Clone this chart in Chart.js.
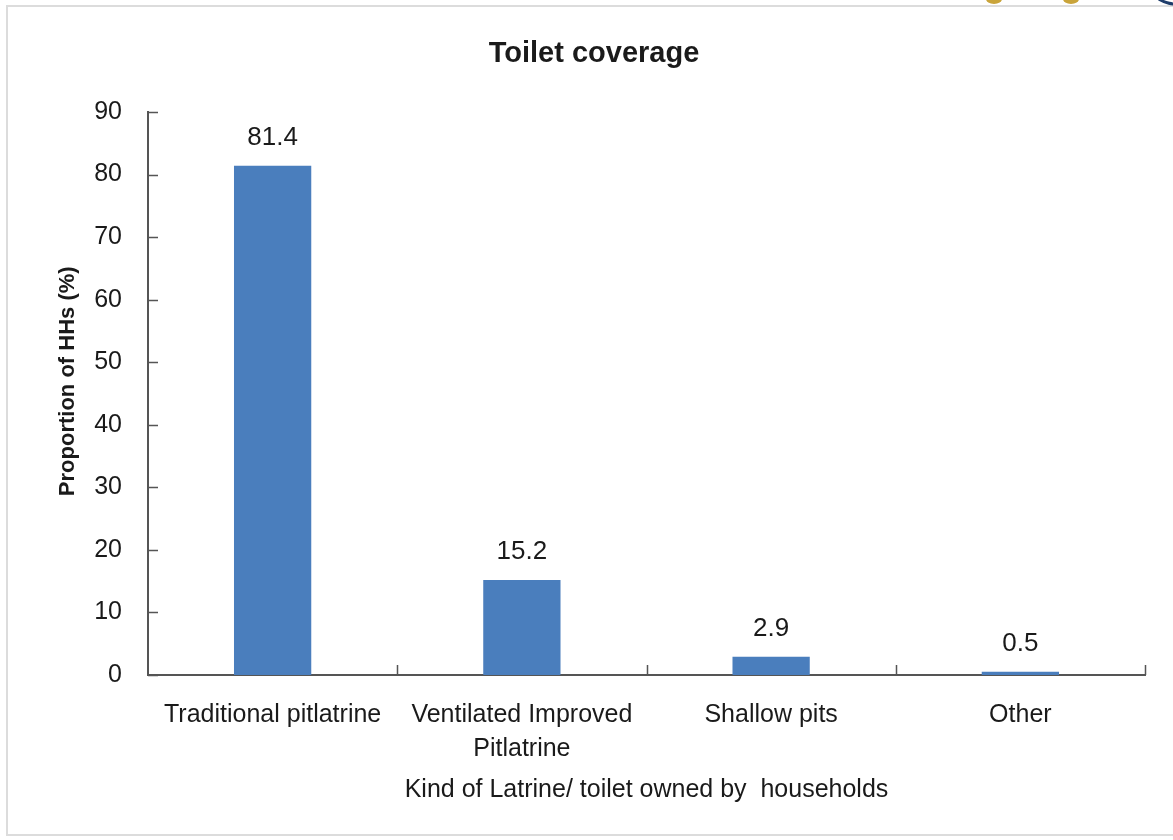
<!DOCTYPE html>
<html>
<head>
<meta charset="utf-8">
<script src="https://cdn.jsdelivr.net/npm/chart.js@4"></script>
<style>
    html, body { margin: 0; padding: 0; background: #fff; }
    body { width: 1173px; height: 840px; position: relative; overflow: hidden; }
    .frame {
        position: absolute; left: 6px; top: 5px; width: 1180px; height: 831px;
        border: 2px solid #dcdcdc; box-sizing: border-box;
    }
    .wrap { position: absolute; left: 0; top: 0; width: 1173px; height: 840px; }
    .logo1, .logo2 { position: absolute; top: -6px; width: 16px; height: 10px; border-radius: 50%; background: #c9a43a; }
    .logo1 { left: 986px; }
    .logo2 { left: 1063px; }
    .logo3 { position: absolute; top: -30px; left: 1150px; width: 60px; height: 36px; border-radius: 50%; border: 3px solid #1f3d6b; box-sizing: border-box; }
</style>
</head>
<body>
<div class="frame"></div>
<div class="logo1"></div><div class="logo2"></div><div class="logo3"></div>
<div class="wrap"><canvas id="toiletChart" width="1173" height="840"></canvas></div>
<script>
// Donnees
const categories = ['Traditional pitlatrine', ['Ventilated Improved', 'Pitlatrine'], 'Shallow pits', 'Other'];
const proportions = [81.4, 15.2, 2.9, 0.5];
const yTicks = [0, 10, 20, 30, 40, 50, 60, 70, 80, 90];

const family = "'Liberation Sans', Arial, sans-serif";
const textColor = '#1a1a1a';
const axisColor = '#555555';

// Etiquettes de valeur au-dessus des barres
const valueLabels = {
    id: 'valueLabels',
    afterDatasetsDraw(chart) {
        const ctx = chart.ctx;
        const meta = chart.getDatasetMeta(0);
        ctx.save();
        ctx.font = "26px " + family;
        ctx.fillStyle = textColor;
        ctx.textAlign = 'center';
        ctx.textBaseline = 'alphabetic';
        meta.data.forEach((bar, i) => {
            ctx.fillText(proportions[i].toFixed(1), bar.x, bar.y - 21);
        });
        ctx.restore();
    }
};

// Petits traits de graduation tournes vers l'interieur
const innerTicks = {
    id: 'innerTicks',
    afterDraw(chart) {
        const ctx = chart.ctx;
        const x = chart.scales.x;
        const y = chart.scales.y;
        ctx.save();
        ctx.strokeStyle = axisColor;
        ctx.lineWidth = 1.5;
        ctx.beginPath();
        yTicks.forEach(v => {
            const py = Math.round(y.getPixelForValue(v)) + 0.5;
            ctx.moveTo(x.left, py);
            ctx.lineTo(x.left + 10, py);
        });
        for (let i = 0; i < categories.length; i++) {
            const px = i < categories.length - 1
                ? (x.getPixelForTick(i) + x.getPixelForTick(i + 1)) / 2
                : x.right;
            ctx.moveTo(Math.round(px) + 0.5, y.bottom);
            ctx.lineTo(Math.round(px) + 0.5, y.bottom - 10);
        }
        ctx.stroke();
        ctx.restore();
    }
};

new Chart(document.getElementById('toiletChart'), {
    type: 'bar',
    data: {
        labels: categories,
        datasets: [{
            data: proportions,
            backgroundColor: '#4a7ebd',
            borderWidth: 0,
            barPercentage: 0.31,
            categoryPercentage: 1.0
        }]
    },
    options: {
        responsive: false,
        animation: false,
        devicePixelRatio: 1,
        layout: { padding: { left: 43, right: 28, top: 0, bottom: 0 } },
        plugins: {
            legend: { display: false },
            tooltip: { enabled: false },
            title: {
                display: true,
                text: 'Toilet coverage',
                color: textColor,
                font: { family: family, size: 29, weight: 'bold' },
                padding: { top: 36.6, bottom: 40.6 }
            }
        },
        scales: {
            x: {
                grid: { display: false },
                border: { display: true, color: axisColor, width: 2 },
                ticks: {
                    color: textColor,
                    font: { family: family, size: 25, lineHeight: 1.36 },
                    padding: 15,
                    maxRotation: 0,
                    autoSkip: false
                },
                title: {
                    display: true,
                    text: 'Kind of Latrine/ toilet owned by  households',
                    color: textColor,
                    font: { family: family, size: 25 },
                    padding: { top: 0, bottom: 35 }
                },
                afterFit(scale) { scale.height = 165; }
            },
            y: {
                min: 0,
                max: 90,
                grid: { display: false },
                border: { display: true, color: axisColor, width: 2 },
                afterBuildTicks(scale) { scale.ticks = yTicks.map(v => ({ value: v })); },
                ticks: {
                    color: textColor,
                    font: { family: family, size: 25 },
                    padding: 18
                },
                title: {
                    display: true,
                    text: '    Proportion of HHs (%)',
                    color: textColor,
                    font: { family: family, size: 22, weight: 'bold' },
                    padding: { top: 11.8, bottom: 0 }
                },
                afterFit(scale) { scale.width = 105; }
            }
        }
    },
    plugins: [valueLabels, innerTicks]
});
</script>
</body>
</html>
